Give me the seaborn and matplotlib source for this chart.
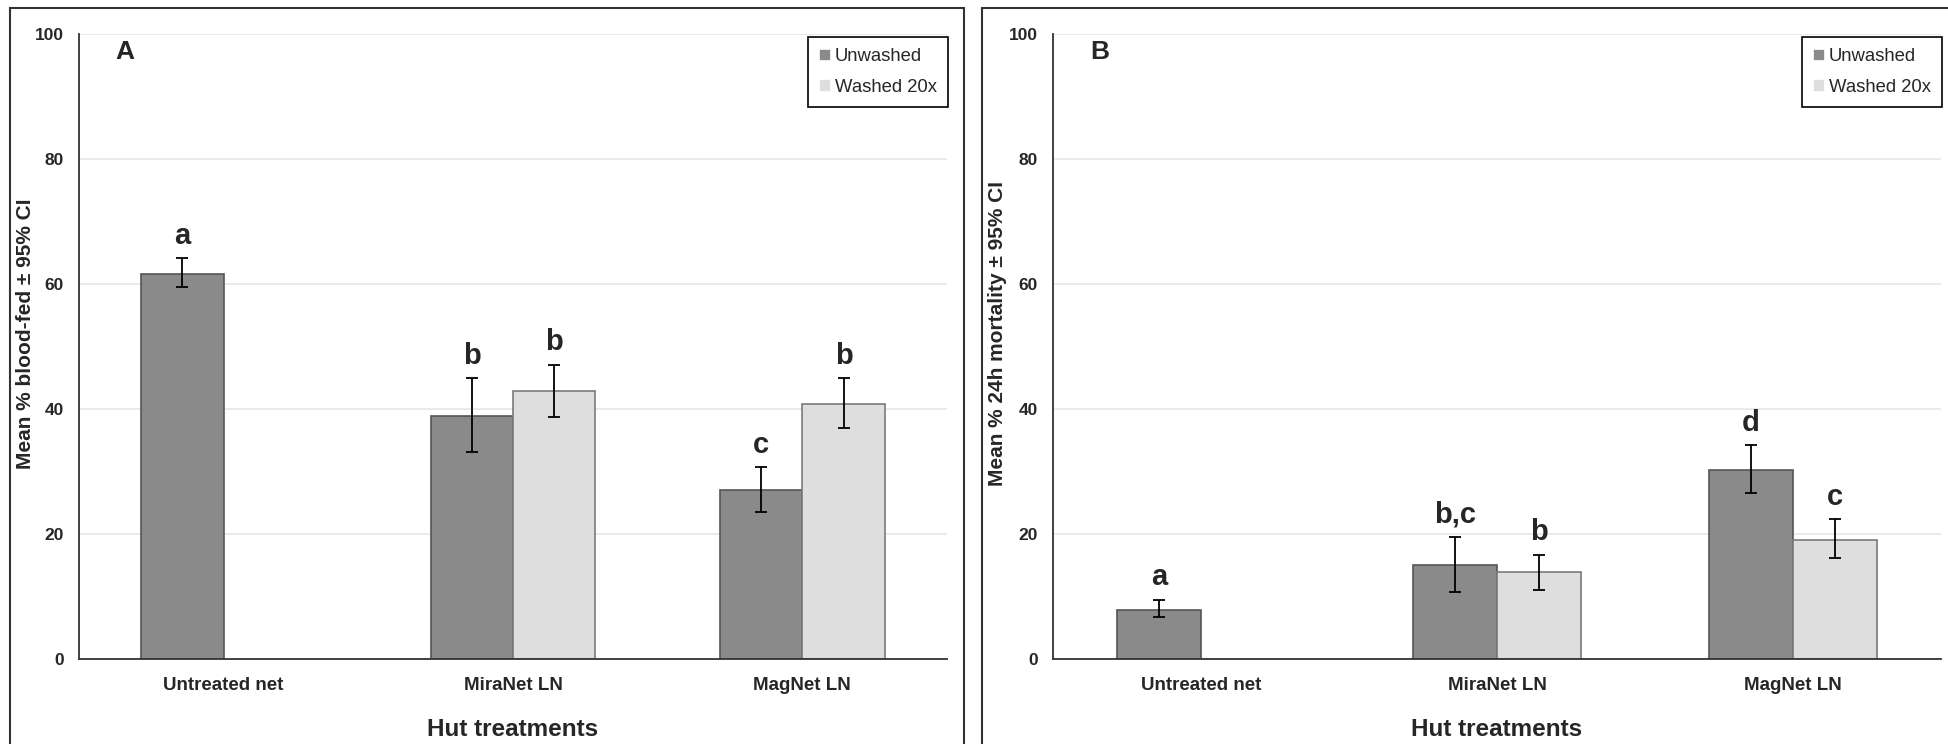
import numpy as np
import pandas as pd
import matplotlib
matplotlib.use("Agg")
import matplotlib.pyplot as plt
import seaborn as sns
from matplotlib.patches import Rectangle

# categories
treatments = ["Untreated net", "MiraNet LN", "MagNet LN"]
washes = ["Unwashed", "Washed 20x"]

# Panel A: mean % blood-fed (untreated net has no washed arm)
fed_unwashed = [61.6, 38.9, 27.0]
fed_unwashed_lo = [59.5, 33.1, 23.6]
fed_unwashed_hi = [64.1, 44.9, 30.7]
fed_washed = [42.9, 40.8]
fed_washed_lo = [38.8, 37.0]
fed_washed_hi = [47.1, 44.9]
fed_letters_unwashed = ["a", "b", "c"]
fed_letters_washed = ["b", "b"]

# Panel B: mean % 24h mortality
mort_unwashed = [7.8, 15.0, 30.3]
mort_unwashed_lo = [6.7, 10.8, 26.6]
mort_unwashed_hi = [9.5, 19.6, 34.2]
mort_washed = [13.9, 19.1]
mort_washed_lo = [11.0, 16.1]
mort_washed_hi = [16.7, 22.4]
mort_letters_unwashed = ["a", "b,c", "d"]
mort_letters_washed = ["b", "c"]

bar_colors = {"Unwashed": "#8a8a8a", "Washed 20x": "#dedede"}
edge_colors = {"Unwashed": "#555555", "Washed 20x": "#7a7a7a"}

NARROW = ["Liberation Sans Narrow", "Liberation Sans", "DejaVu Sans"]
REGULAR = ["Liberation Sans", "DejaVu Sans"]


def make_frame(unw, unw_lo, unw_hi, unw_let, wsh, wsh_lo, wsh_hi, wsh_let):
    rows = []
    for t, v, lo, hi, let in zip(treatments, unw, unw_lo, unw_hi, unw_let):
        rows.append((t, "Unwashed", v, lo, hi, let))
    for t, v, lo, hi, let in zip(treatments[1:], wsh, wsh_lo, wsh_hi, wsh_let):
        rows.append((t, "Washed 20x", v, lo, hi, let))
    return pd.DataFrame(rows, columns=["treatment", "wash", "value", "lo", "hi", "letter"])


def draw_panel(ax, df, ylabel, tag):
    sns.barplot(data=df, x="treatment", y="value", hue="wash",
                order=treatments, hue_order=washes, palette=bar_colors,
                errorbar=None, width=0.57, gap=0, dodge=True, ax=ax,
                linewidth=1.2, saturation=1)

    for cont, w in zip(ax.containers, washes):
        sub = df[df["wash"] == w].copy()
        sub["pos"] = sub["treatment"].map({t: i for i, t in enumerate(treatments)})
        sub = sub.sort_values("pos")
        bars = sorted(cont.patches, key=lambda b: b.get_x())
        xs = []
        for b in bars:
            b.set_edgecolor(edge_colors[w])
            xs.append(b.get_x() + b.get_width() / 2)
        xs = np.array(xs)
        vals = sub["value"].to_numpy()
        err = [vals - sub["lo"].to_numpy(), sub["hi"].to_numpy() - vals]
        ax.errorbar(xs, vals, yerr=err, fmt="none", ecolor="black",
                    elinewidth=1.3, capsize=4.5, capthick=1.3, zorder=5)
        for x, hi, let in zip(xs, sub["hi"], sub["letter"]):
            ax.annotate(let, (x, hi), xytext=(0, 16), textcoords="offset points",
                        ha="center", va="center", fontsize=21, fontweight="bold",
                        family=REGULAR)

    ax.set_ylim(0, 100)
    ax.set_xlim(-0.5, 2.5)
    ax.set_yticks(range(0, 101, 20))
    ax.yaxis.grid(True, color="#e6e6e6", linewidth=1.2)
    ax.set_axisbelow(True)
    ax.set_xticks([-0.5, 0.5, 1.5, 2.5], minor=True)
    ax.tick_params(axis="x", which="major", length=0, pad=13)
    ax.tick_params(axis="x", which="minor", length=5, width=1.2, color="#333333", direction="out")
    ax.tick_params(axis="y", length=5, width=1.2, color="#333333", pad=6)
    for lab in ax.get_xticklabels():
        lab.set_family(NARROW)
        lab.set_fontweight("bold")
        lab.set_fontsize(13.5)
    for lab in ax.get_yticklabels():
        lab.set_family(NARROW)
        lab.set_fontweight("bold")
        lab.set_fontsize(12.5)
    for s in ["top", "right"]:
        ax.spines[s].set_visible(False)
    for s in ["left", "bottom"]:
        ax.spines[s].set_color("#333333")
        ax.spines[s].set_linewidth(1.3)

    ax.set_xlabel("Hut treatments")
    xl = ax.xaxis.label
    xl.set_family(NARROW)
    xl.set_fontsize(17.5)
    xl.set_fontweight("bold")
    ax.xaxis.set_label_coords(0.5, -0.094)

    ax.set_ylabel(ylabel)
    yl = ax.yaxis.label
    yl.set_family(REGULAR)
    yl.set_fontsize(15)
    yl.set_fontweight("bold")
    yl.set_va("center")
    ax.yaxis.set_label_coords(-0.062, 0.52)

    ax.text(0.053, 0.971, tag, transform=ax.transAxes, fontsize=19,
            fontweight="bold", ha="center", va="center", family=REGULAR)

    handles, labels = ax.get_legend_handles_labels()
    leg = ax.legend(handles, labels, loc="upper right", bbox_to_anchor=(1.001, 0.995),
                    frameon=True, fancybox=False, framealpha=1, edgecolor="black",
                    prop={"family": REGULAR, "size": 13.3}, handlelength=0.65,
                    handleheight=0.65, handletextpad=0.2, labelspacing=0.75,
                    borderpad=0.6, borderaxespad=0)
    leg.get_frame().set_linewidth(1.2)


sns.set_style("white")

W, H = 1948, 744
fig = plt.figure(figsize=(W / 100, H / 100), dpi=100)
fig.patch.set_facecolor("white")

ax_a = fig.add_axes([79 / W, 85 / H, 868 / W, 625 / H])
ax_b = fig.add_axes([1053 / W, 85 / H, 888 / W, 625 / H])

df_fed = make_frame(fed_unwashed, fed_unwashed_lo, fed_unwashed_hi, fed_letters_unwashed,
                    fed_washed, fed_washed_lo, fed_washed_hi, fed_letters_washed)
df_mort = make_frame(mort_unwashed, mort_unwashed_lo, mort_unwashed_hi, mort_letters_unwashed,
                     mort_washed, mort_washed_lo, mort_washed_hi, mort_letters_washed)

draw_panel(ax_a, df_fed, "Mean % blood-fed \u00b1 95% CI", "A")
draw_panel(ax_b, df_mort, "Mean % 24h mortality \u00b1 95% CI", "B")

# outer frames around each panel
for x0, x1 in [(10, 964), (982, 1960)]:
    fig.add_artist(Rectangle((x0 / W, -0.05), (x1 - x0) / W, 1.05 - 8 / H,
                             transform=fig.transFigure, fill=False,
                             edgecolor="#333333", linewidth=1.5))

fig.savefig("out.png", dpi=100, facecolor="white")
